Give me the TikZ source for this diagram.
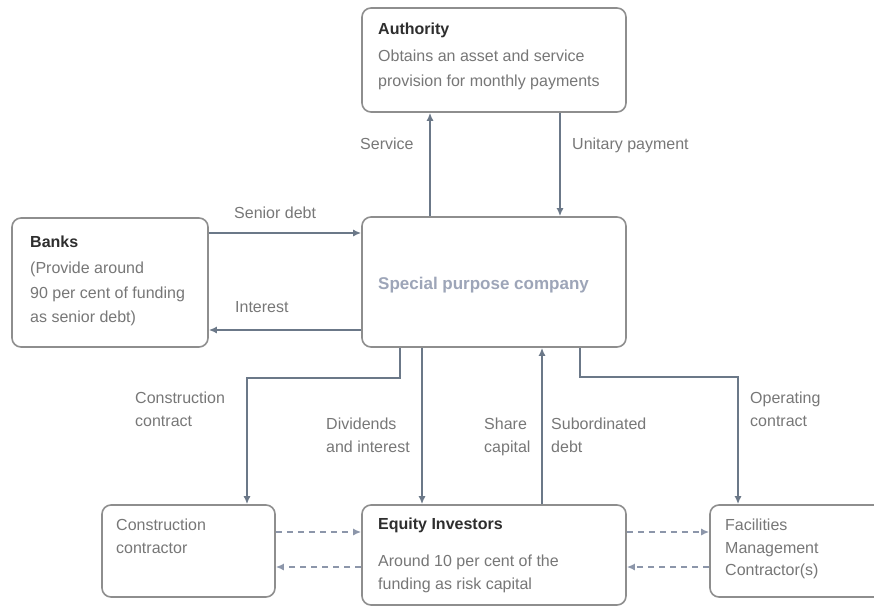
\documentclass[tikz,border=0pt]{standalone}
\usepackage{fontspec}
\setmainfont{Liberation Sans}
\usetikzlibrary{arrows.meta}
\definecolor{boxgray}{HTML}{8E8E8E}
\definecolor{arrgray}{HTML}{6B7888}
\definecolor{dashgray}{HTML}{8C96AA}
\definecolor{bodygray}{HTML}{777777}
\definecolor{titlegray}{HTML}{2E2E2E}
\definecolor{spcblue}{HTML}{9DA5B8}
\tikzset{
  box/.style={draw=boxgray, line width=1.6pt, rounded corners=9pt, inner sep=0pt, fill=white},
  txt/.style={font=\fontsize{16}{20}\selectfont, text=bodygray, anchor=base west, inner sep=0pt},
  ttl/.style={font=\fontsize{16}{20}\selectfont\bfseries, text=titlegray, anchor=base west, inner sep=0pt},
  arr/.style={draw=arrgray, line width=1.6pt, -{Latex[length=8pt,width=7pt]}},
  darr/.style={draw=dashgray, line width=1.6pt, dash pattern=on 6pt off 5pt, -{Latex[length=8pt,width=7pt]}}
}
\begin{document}
\begin{tikzpicture}[x=1pt,y=-1pt]
\useasboundingbox (0,0) rectangle (874,607);
% boxes
\node[box, minimum width=264pt, minimum height=104pt] (auth) at (494,60) {};
\node[box, minimum width=196pt, minimum height=129pt] (banks) at (110,282.5) {};
\node[box, minimum width=264pt, minimum height=130pt] (spc) at (494,282) {};
\node[box, minimum width=173pt, minimum height=92pt] (cc) at (188.5,551) {};
\node[box, minimum width=264pt, minimum height=100pt] (eq) at (494,555) {};
\node[box, minimum width=175pt, minimum height=92pt] (fm) at (797.5,551) {};
% box texts
\node[ttl] (authT) at (378,35) {Authority};
\node[txt] (auth1) at (378,62) {Obtains an asset and service};
\node[txt] (auth2) at (378,87) {provision for monthly payments};
\node[ttl] (banksT) at (30,247) {Banks};
\node[txt] (banks1) at (30,273) {(Provide around};
\node[txt] (banks2) at (30,298) {90 per cent of funding};
\node[txt] (banks3) at (30,322) {as senior debt)};
\node[txt, font=\fontsize{17}{20}\selectfont\bfseries, text=spcblue] (spcT) at (378,289) {Special purpose company};
\node[txt] (cc1) at (116,530) {Construction};
\node[txt] (cc2) at (116,553) {contractor};
\node[ttl] (eqT) at (378,529) {Equity Investors};
\node[txt] (eq1) at (378,566) {Around 10 per cent of the};
\node[txt] (eq2) at (378,589) {funding as risk capital};
\node[txt] (fm1) at (725,530) {Facilities};
\node[txt] (fm2) at (725,553) {Management};
\node[txt] (fm3) at (725,575) {Contractor(s)};
% connector labels
\node[txt] (lService) at (360,149) {Service};
\node[txt] (lUnitary) at (572,149) {Unitary payment};
\node[txt] (lSenior) at (234,218) {Senior debt};
\node[txt] (lInterest) at (235,312) {Interest};
\node[txt] (lCons1) at (135,403) {Construction};
\node[txt] (lCons2) at (135,426) {contract};
\node[txt] (lDiv1) at (326,429) {Dividends};
\node[txt] (lDiv2) at (326,452) {and interest};
\node[txt] (lShare1) at (484,429) {Share};
\node[txt] (lShare2) at (484,452) {capital};
\node[txt] (lSub1) at (551,429) {Subordinated};
\node[txt] (lSub2) at (551,452) {debt};
\node[txt] (lOp1) at (750,403) {Operating};
\node[txt] (lOp2) at (750,426) {contract};
% coordinates for bends
\coordinate (cbend) at (400,378);
\coordinate (obend) at (580,377);
% connectors
\draw[arr] (430,0 |- spc.north) -- (430,0 |- auth.south);
\draw[arr] (560,0 |- auth.south) -- (560,0 |- spc.north);
\draw[arr] (banks.east |- 0,233) -- (spc.west |- 0,233);
\draw[arr] (spc.west |- 0,330) -- (banks.east |- 0,330);
\draw[arr] (cbend |- spc.south) -- (cbend) -| (247,0 |- cc.north);
\draw[arr] (422,0 |- spc.south) -- (422,0 |- eq.north);
\draw[arr] (542,0 |- eq.north) -- (542,0 |- spc.south);
\draw[arr] (obend |- spc.south) -- (obend) -| (738,0 |- fm.north);
\draw[darr] (cc.east |- 0,532) -- (eq.west |- 0,532);
\draw[darr] (eq.west |- 0,567) -- (cc.east |- 0,567);
\draw[darr] (eq.east |- 0,532) -- (fm.west |- 0,532);
\draw[darr] (fm.west |- 0,567) -- (eq.east |- 0,567);
\end{tikzpicture}
\end{document}
